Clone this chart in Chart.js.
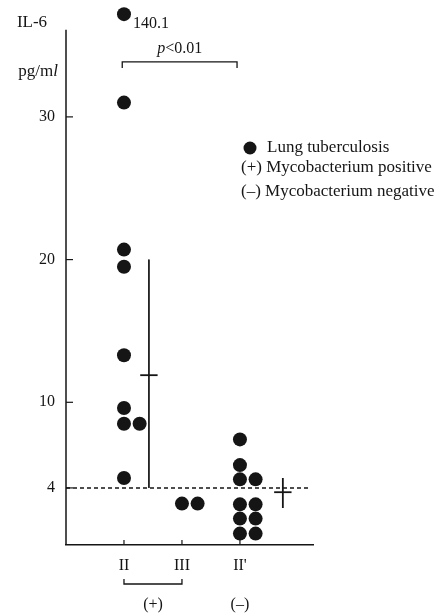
<!DOCTYPE html>
<html>
<head>
<meta charset="utf-8">
<script src="https://cdn.jsdelivr.net/npm/chart.js@4"></script>
<style>
  body { margin: 0; background: #fff; }
  canvas { display: block; }
</style>
</head>
<body>
<canvas id="il6-chart" width="443" height="614"></canvas>
<script>
// groups on the x axis
const groupLabels = ['II', 'III', "II'"]
const yTickValues = [4, 10, 20, 30]

// IL-6 values (pg/ml), one per patient
const groupII = [31.0, 20.7, 19.5, 13.3, 9.6, 8.5, 8.5, 4.7]
const groupIII = [2.9, 2.9]
const groupIIneg = [7.4, 5.6, 4.6, 4.6, 2.85, 2.85, 1.85, 1.85, 0.8, 0.8]
const outlierValue = 140.1   // group II, off the scale

// mean and range bars (group index, mean, upper, lower)
const summaryGroup = [0, 2]
const summaryMean = [11.9, 3.7]
const summaryUpper = [20, 4.7]
const summaryLower = [4, 2.6]

const cutoff = 4

const INK = '#151515'
const SERIF = '"Liberation Serif", "DejaVu Serif", serif'
const Y_MAX = 37.7
const AXIS_TOP = 36.1
const OUTLIER_Y = 37.2
const X_MAX = 4.26
const PAIR_STEP = 0.27
const summaryOffset = [0.43, 0.74]

// side by side dots when values repeat
function dotPoints(values, groupIndex) {
    const seen = {}
    return values.map(v => {
        const col = seen[v] || 0
        seen[v] = col + 1
        return { x: groupIndex + 1 + col * PAIR_STEP, y: v }
    })
}

const dots = [].concat(
    dotPoints(groupII, 0),
    dotPoints(groupIII, 1),
    dotPoints(groupIIneg, 2)
)
dots.push({ x: 1, y: OUTLIER_Y })   // 140.1 drawn above the axis break

const datasets = [{
    data: dots,
    pointRadius: 7,
    pointBackgroundColor: INK,
    pointBorderWidth: 0,
    showLine: false,
    clip: false
}, {
    data: [{ x: 0, y: cutoff }, { x: 4.18, y: cutoff }],
    showLine: true,
    borderColor: INK,
    borderWidth: 1.5,
    borderDash: [4, 3],
    pointRadius: 0
}]

summaryGroup.forEach((g, i) => {
    const cx = g + 1 + summaryOffset[i]
    datasets.push({
        data: [{ x: cx, y: summaryUpper[i] }, { x: cx, y: summaryLower[i] }],
        showLine: true, borderColor: INK, borderWidth: i === 0 ? 1 : 1.8, pointRadius: 0
    })
    datasets.push({
        data: [{ x: cx - 0.15, y: summaryMean[i] }, { x: cx + 0.15, y: summaryMean[i] }],
        showLine: true, borderColor: INK, borderWidth: 1.8, pointRadius: 0
    })
})

function font(size, italic) {
    return (italic ? 'italic ' : '') + size + 'px ' + SERIF
}

const extras = {
    id: 'extras',
    afterDraw(chart) {
        const ctx = chart.ctx
        const xs = chart.scales.x
        const ys = chart.scales.y
        const left = chart.chartArea.left
        const bottom = chart.chartArea.bottom
        ctx.save()
        ctx.strokeStyle = INK
        ctx.fillStyle = INK

        // y axis line, stops below the off-scale dot
        ctx.lineWidth = 1.5
        ctx.beginPath()
        ctx.moveTo(left, ys.getPixelForValue(AXIS_TOP))
        ctx.lineTo(left, bottom)
        ctx.stroke()

        // inward ticks
        ctx.lineWidth = 1.2
        yTickValues.forEach(v => {
            const y = ys.getPixelForValue(v)
            ctx.beginPath(); ctx.moveTo(left, y); ctx.lineTo(left + 7, y); ctx.stroke()
        })
        groupLabels.forEach((l, i) => {
            const x = xs.getPixelForValue(i + 1)
            ctx.beginPath(); ctx.moveTo(x, bottom); ctx.lineTo(x, bottom - 5); ctx.stroke()
        })

        ctx.textBaseline = 'middle'
        ctx.font = font(17)
        ctx.textAlign = 'center'
        ctx.fillText('IL-6', 32, 23)

        // pg/ml with italic l
        ctx.textAlign = 'left'
        const pgW = ctx.measureText('pg/m').width
        ctx.font = font(17, true)
        const lW = ctx.measureText('l').width
        const pgX = 58 - pgW - lW
        ctx.font = font(17)
        ctx.fillText('pg/m', pgX, 72)
        ctx.font = font(17, true)
        ctx.fillText('l', pgX + pgW, 72)

        ctx.font = font(16)
        ctx.fillText(String(outlierValue), xs.getPixelForValue(1) + 9, 24)

        // p bracket between II and II'
        const bx1 = xs.getPixelForValue(0.97)
        const bx2 = xs.getPixelForValue(2.95)
        const by = ys.getPixelForValue(33.85)
        ctx.lineWidth = 1.3
        ctx.beginPath()
        ctx.moveTo(bx1, by + 6); ctx.lineTo(bx1, by); ctx.lineTo(bx2, by); ctx.lineTo(bx2, by + 6)
        ctx.stroke()
        ctx.font = font(16, true)
        const pW = ctx.measureText('p').width
        ctx.font = font(16)
        const restW = ctx.measureText('<0.01').width
        const px = (bx1 + bx2) / 2 - (pW + restW) / 2
        ctx.font = font(16, true)
        ctx.fillText('p', px, 49)
        ctx.font = font(16)
        ctx.fillText('<0.01', px + pW, 49)

        // bottom bracket under II and III
        const ux1 = xs.getPixelForValue(1)
        const ux2 = xs.getPixelForValue(2)
        ctx.beginPath()
        ctx.moveTo(ux1, 579); ctx.lineTo(ux1, 584); ctx.lineTo(ux2, 584); ctx.lineTo(ux2, 579)
        ctx.stroke()
        ctx.textAlign = 'center'
        ctx.fillText('(+)', (ux1 + ux2) / 2, 605)
        ctx.fillText('(\u2013)', xs.getPixelForValue(3), 605)

        // legend
        ctx.font = font(17)
        ctx.textAlign = 'left'
        ctx.beginPath()
        ctx.arc(250, 148, 6.5, 0, Math.PI * 2)
        ctx.fill()
        ctx.fillText('Lung tuberculosis', 267, 148)
        ctx.fillText('(+) Mycobacterium positive', 241, 168)
        ctx.fillText('(\u2013) Mycobacterium negative', 241, 192)

        ctx.restore()
    }
}

new Chart(document.getElementById('il6-chart'), {
    type: 'scatter',
    data: { datasets: datasets },
    options: {
        responsive: false,
        animation: false,
        layout: { padding: { top: 7, right: 130, left: 0, bottom: 0 } },
        plugins: { legend: { display: false }, tooltip: { enabled: false } },
        scales: {
            x: {
                type: 'linear',
                min: 0,
                max: X_MAX,
                afterBuildTicks: s => { s.ticks = groupLabels.map((l, i) => ({ value: i + 1 })) },
                afterFit: s => { s.height = 69; s.paddingLeft = 0; s.paddingRight = 0 },
                ticks: {
                    callback: (v, i) => groupLabels[i],
                    font: { family: SERIF, size: 16 },
                    color: INK,
                    padding: 11,
                    maxRotation: 0
                },
                grid: { display: false, drawTicks: false },
                border: { display: true, color: INK, width: 1.5 }
            },
            y: {
                min: 0,
                max: Y_MAX,
                afterBuildTicks: s => { s.ticks = yTickValues.map(v => ({ value: v })) },
                afterFit: s => { s.width = 66; s.paddingTop = 0; s.paddingBottom = 0 },
                ticks: {
                    font: { family: SERIF, size: 16 },
                    color: INK,
                    padding: 11
                },
                grid: { display: false, drawTicks: false },
                border: { display: false }
            }
        }
    },
    plugins: [extras]
})
</script>
</body>
</html>
